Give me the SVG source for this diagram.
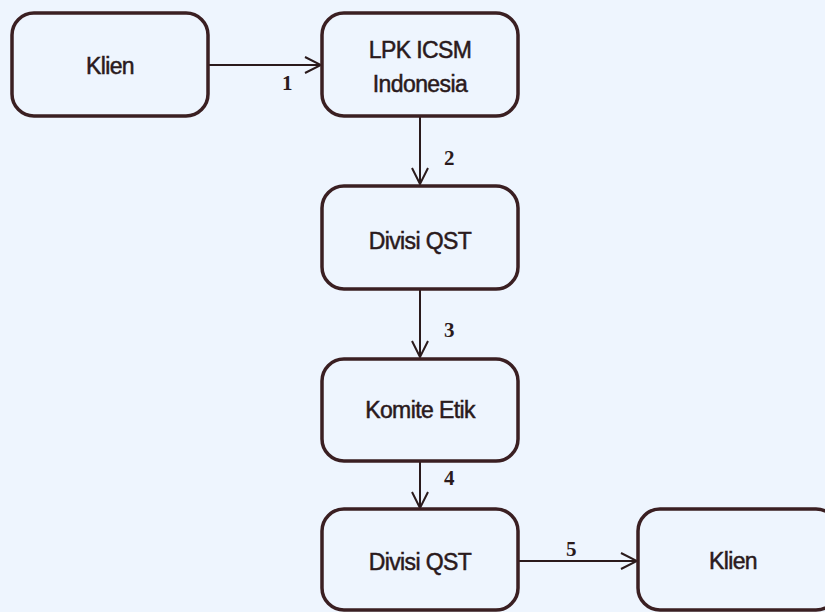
<svg xmlns="http://www.w3.org/2000/svg" width="825" height="612" viewBox="0 0 825 612">
<defs>
<style>
.box{fill:#eef5fe;stroke:#3a1f22;stroke-width:3.5}
.t{font-family:"Liberation Sans",Arial,sans-serif;font-size:23px;fill:#2a1a1c;stroke:#2a1a1c;stroke-width:0.5;text-anchor:middle;letter-spacing:-0.6px}
.n{font-family:"Liberation Serif","Times New Roman",serif;font-weight:bold;font-size:21px;fill:#2a1a1c}
.c{fill:none;stroke:#2a1a1c;stroke-width:2}
</style>
<marker id="ah" viewBox="0 0 20 20" refX="18" refY="10" markerWidth="20" markerHeight="20" markerUnits="userSpaceOnUse" orient="auto">
<path d="M2,2 L18,10 L2,18" fill="none" stroke="#2a1a1c" stroke-width="2"/>
</marker>
</defs>
<rect width="825" height="612" fill="#eef5fe"/>
<g id="connectors">
<line class="c" x1="208" y1="65" x2="321" y2="65" marker-end="url(#ah)"/>
<line class="c" x1="420" y1="116" x2="420" y2="184" marker-end="url(#ah)"/>
<line class="c" x1="420" y1="289" x2="420" y2="357" marker-end="url(#ah)"/>
<line class="c" x1="420" y1="461" x2="420" y2="508" marker-end="url(#ah)"/>
<line class="c" x1="518" y1="561" x2="637" y2="561" marker-end="url(#ah)"/>
<text class="n" x="282" y="90">1</text>
<text class="n" x="444" y="165">2</text>
<text class="n" x="444" y="337">3</text>
<text class="n" x="444" y="485">4</text>
<text class="n" x="566" y="556">5</text>
</g>
<g id="klien1"><rect class="box" x="12" y="13" width="196" height="103" rx="22"/><text class="t" x="110" y="74">Klien</text></g>
<g id="lpk"><rect class="box" x="322" y="13" width="196" height="103" rx="22"/><text class="t" x="420" y="58">LPK ICSM</text><text class="t" x="420" y="92">Indonesia</text></g>
<g id="qst1"><rect class="box" x="322" y="186" width="196" height="103" rx="22"/><text class="t" x="420" y="249">Divisi QST</text></g>
<g id="komite"><rect class="box" x="322" y="359" width="196" height="102" rx="22"/><text class="t" x="420" y="418">Komite Etik</text></g>
<g id="qst2"><rect class="box" x="322" y="509" width="196" height="101" rx="22"/><text class="t" x="420" y="570">Divisi QST</text></g>
<g id="klien2"><rect class="box" x="638" y="509" width="200" height="101" rx="22"/><text class="t" x="733" y="569">Klien</text></g>
</svg>
